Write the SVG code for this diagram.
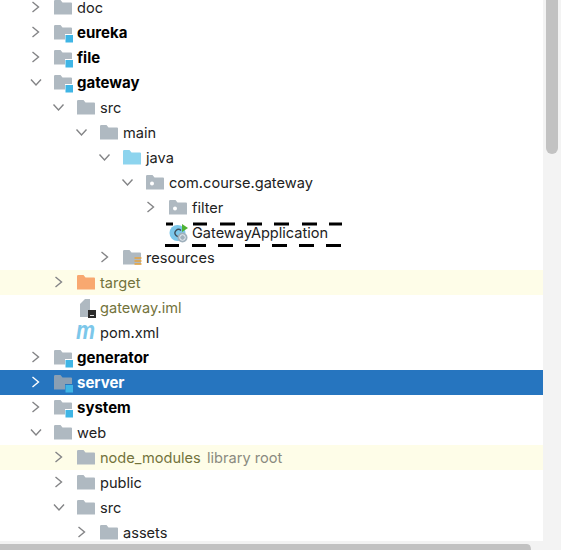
<svg xmlns="http://www.w3.org/2000/svg" width="561" height="550" viewBox="0 0 561 550">
<style>
text{font-family:Inter,"Liberation Sans",sans-serif;font-size:14.6px;fill:#222}
.b{font-weight:700;font-size:15px;fill:#000}
.o{fill:#73733c}
.g{fill:#8a8a80}
.w{fill:#fff;font-weight:700;font-size:15px}
.c{fill:none;stroke:#838486;stroke-width:1.4}
.d{fill:none;stroke:#000;stroke-width:3}
</style>
<defs>
<path id="f" d="M0 1.2Q0 0 1.2 0H6.5L8.500 2.500H17Q18 2.500 18 3.500V14.500H0Z"/>
<g id="folder"><use href="#f" fill="#afb9c1"/></g>
<g id="module"><use href="#f" fill="#afb9c1"/><rect x="11" y="9" width="9" height="9" fill="#fff"/><rect x="11.500" y="10" width="7.500" height="7.500" fill="#3fb5e5"/></g>
<g id="pkg"><use href="#f" fill="#afb9c1"/><circle cx="6" cy="8.500" r="2" fill="#fff"/></g>
<path id="r" class="c" d="M-2.500 -5L3.500 0L-2.500 5"/>
<path id="v" class="c" d="M-5 -3L0 2.500L5 -3"/>
</defs>
<rect width="561" height="550" fill="#fff"/>
<g id="rows">
<rect y="270" width="543" height="25" fill="#fefde8"/>
<rect y="370" width="543" height="25" fill="#2675bf"/>
<rect y="445" width="543" height="25" fill="#fefde8"/>
</g>
<g id="connectors">
<use href="#r" x="35" y="7"/>
<use href="#r" x="35" y="32"/>
<use href="#r" x="35" y="57"/>
<use href="#v" x="36" y="82.500"/>
<use href="#v" x="58.500" y="107.500"/>
<use href="#v" x="81.500" y="132.500"/>
<use href="#v" x="104.500" y="157.500"/>
<use href="#v" x="127.500" y="182.500"/>
<use href="#r" x="150" y="207"/>
<use href="#r" x="104" y="257"/>
<use href="#r" x="58" y="282"/>
<use href="#r" x="35" y="357"/>
<path d="M32.500 377L38.500 382L32.500 387" fill="none" stroke="#fff" stroke-width="1.400"/>
<use href="#r" x="35" y="407"/>
<use href="#v" x="36" y="432.500"/>
<use href="#r" x="58" y="457"/>
<use href="#r" x="58" y="482"/>
<use href="#v" x="59" y="507.500"/>
<use href="#r" x="81" y="532"/>
</g>
<g id="doc"><use href="#folder" x="54" y="0"/><text x="77" y="13">doc</text></g>
<g id="eureka"><use href="#module" x="54" y="25"/><text class="b" x="77" y="38">eureka</text></g>
<g id="file"><use href="#module" x="54" y="50"/><text class="b" x="77" y="63">file</text></g>
<g id="gateway"><use href="#module" x="54" y="75"/><text class="b" x="77" y="88">gateway</text></g>
<g id="src"><use href="#folder" x="77" y="100"/><text x="100" y="113">src</text></g>
<g id="main"><use href="#folder" x="100" y="125"/><text x="123" y="138">main</text></g>
<g id="java"><use href="#f" x="123" y="150" fill="#8dd4ee"/><text x="146" y="163">java</text></g>
<g id="com-course-gateway"><use href="#pkg" x="146" y="175"/><text x="169" y="188">com.course.gateway</text></g>
<g id="filter"><use href="#pkg" x="169" y="200"/><text x="192" y="213">filter</text></g>
<g id="GatewayApplication">
<circle cx="177.500" cy="233" r="8" fill="#7cc7ea"/>
<path d="M181 230.500A3.500 3.500 0 1 0 181 235.500" fill="none" stroke="#3c4a55" stroke-width="1.300"/>
<path d="M182 224V232L188 228Z" fill="#4fb233"/>
<circle cx="182.500" cy="237.500" r="5" fill="#9fb0bc"/>
<circle cx="182.500" cy="237.500" r="2.800" fill="none" stroke="#e8eef2" stroke-width="1"/>
<text x="192" y="238" textLength="136">GatewayApplication</text>
<path class="d" d="M166 224H173M193 224H207M220 224H235M247 224H262M274 224H289M302 224H317M329 224H342"/>
<path class="d" d="M165 245.500H179M192 245.500H206M218 245.500H233M245 245.500H260M272 245.500H287M299 245.500H314M326 245.500H341"/>
</g>
<g id="resources"><use href="#f" x="123" y="250" fill="#afb9c1"/><path d="M134.500 258h7M134.500 261h7M134.500 264h7" stroke="#e8a33d" stroke-width="1.600"/><text x="146" y="263">resources</text></g>
<g id="target"><use href="#f" x="77" y="275" fill="#f8a870"/><text class="o" x="100" y="288">target</text></g>
<g id="gateway-iml"><path d="M80 304L85 299H90V317H80Z" fill="#afb9c1"/><rect x="88" y="310" width="8" height="8" fill="#2b2b2b"/><rect x="90" y="315" width="4" height="1" fill="#ddd"/><text class="o" x="100" y="313">gateway.iml</text></g>
<g id="pom-xml"><text x="76" y="339" style="font-family:'Liberation Sans',sans-serif;font-size:25px;font-weight:700;font-style:italic;fill:#7cc7ea" textLength="19" lengthAdjust="spacingAndGlyphs">m</text><text x="100" y="338">pom.xml</text></g>
<g id="generator"><use href="#module" x="54" y="350"/><text class="b" x="77" y="363">generator</text></g>
<g id="server"><use href="#f" x="54" y="375" fill="#8a9fb3"/><rect x="65" y="384" width="9" height="9" fill="#2675bf"/><rect x="65.500" y="385" width="7.500" height="7.500" fill="#3fb5e5"/><text class="w" x="77" y="388">server</text></g>
<g id="system"><use href="#module" x="54" y="400"/><text class="b" x="77" y="413">system</text></g>
<g id="web"><use href="#folder" x="54" y="425"/><text x="77" y="438">web</text></g>
<g id="node_modules"><use href="#folder" x="77" y="450"/><text class="o" x="100" y="463">node_modules</text><text class="g" x="207" y="463">library root</text></g>
<g id="public"><use href="#folder" x="77" y="475"/><text x="100" y="488">public</text></g>
<g id="web-src"><use href="#folder" x="77" y="500"/><text x="100" y="513">src</text></g>
<g id="assets"><use href="#folder" x="100" y="525"/><text x="123" y="538">assets</text></g>
<g id="scrollbars">
<rect x="543" width="18" height="550" fill="#f3f3f3"/>
<rect y="541" width="561" height="9" fill="#f3f3f3"/>
<path d="M546 0H558V148A6 6 0 0 1 546 148Z" fill="#c2c2c2"/>
<path d="M0 544H527Q531 544 531 550H0Z" fill="#c2c2c2"/>
</g>
</svg>
